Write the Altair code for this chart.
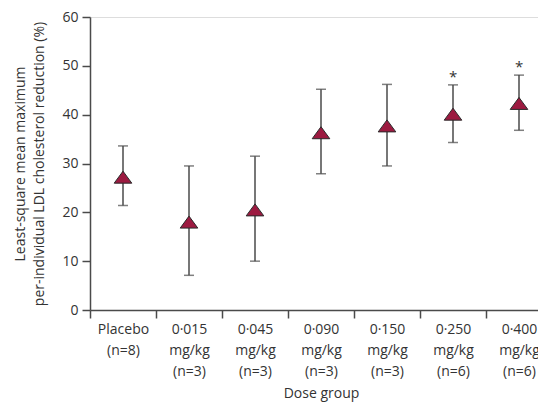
import altair as alt
import pandas as pd

groups = ["Placebo|(n=8)", "0·015|mg/kg|(n=3)", "0·045|mg/kg|(n=3)", "0·090|mg/kg|(n=3)",
          "0·150|mg/kg|(n=3)", "0·250|mg/kg|(n=6)", "0·400|mg/kg|(n=6)"]
means = [27.2, 18.0, 20.5, 36.3, 37.7, 40.1, 42.3]
lower = [21.4, 7.1, 10.0, 27.9, 29.5, 34.3, 36.8]
upper = [33.6, 29.5, 31.5, 45.2, 46.2, 46.1, 48.1]
stars = ["", "", "", "", "", "*", "*"]

df = pd.DataFrame({
    "group": groups,
    "pos": [i + 0.5 for i in range(len(groups))],
    "mean": means, "lower": lower, "upper": upper, "star": stars,
})

FONT = "Open Sans"
INK = "#333333"
AX = "#4a4a4a"
STEP = 66          # pixel width of one dose group
PLOT_W = 448       # visible plot width (the last group is cut by the frame)

label_arr = "[" + ",".join(f"'{g}'" for g in groups) + "]"

x_axis = alt.Axis(
    values=[i * 0.5 for i in range(0, 15)],
    labelExpr=f"(datum.value % 1 == 0) ? '' : split({label_arr}[floor(datum.value)], '|')",
    tickOpacity={"condition": {"test": "datum.value % 1 == 0", "value": 1}, "value": 0},
    tickSize=8, tickWidth=1.5, tickColor=AX,
    domainColor=AX, domainWidth=1.5,
    labelFont=FONT, labelFontSize=14, labelColor=INK, labelLineHeight=21,
    labelPadding=4, labelBaseline="top", labelFlush=False, labelOverlap=False,
    title="Dose group", titleFont=FONT, titleFontSize=14, titleFontWeight="normal",
    titleColor=INK, titlePadding=8, titleX=len(groups) * STEP / 2, grid=False,
)
x = alt.X("pos:Q", axis=x_axis,
          scale=alt.Scale(domain=[0, PLOT_W / STEP], nice=False))

y_axis = alt.Axis(
    values=[0, 10, 20, 30, 40, 50, 60],
    tickSize=8, tickWidth=1.5, tickColor=AX,
    domainColor=AX, domainWidth=1.5,
    labelFont=FONT, labelFontSize=14, labelColor=INK, labelPadding=4,
    title=["Least-square mean maximum", "per-individual LDL cholesterol reduction (%)"],
    titleFont=FONT, titleFontSize=14, titleFontWeight="normal", titleColor=INK,
    titleLineHeight=19, titlePadding=15, grid=False,
)
yscale = alt.Scale(domain=[0, 60], nice=False)

base = alt.Chart(df)

bars = base.mark_rule(color=AX, strokeWidth=1.5).encode(
    x=x, y=alt.Y("lower:Q", axis=y_axis, scale=yscale), y2="upper:Q")
cap_lo = base.mark_tick(orient="horizontal", size=10, thickness=1.5, color=AX).encode(
    x=x, y=alt.Y("lower:Q", axis=y_axis, scale=yscale))
cap_hi = base.mark_tick(orient="horizontal", size=10, thickness=1.5, color=AX).encode(
    x=x, y=alt.Y("upper:Q", axis=y_axis, scale=yscale))
pts = base.mark_point(shape="M0,-0.68L-1,0.68L1,0.68Z", filled=True, fill="#9c1a40",
                      stroke="#2a2a2a", strokeWidth=1, size=310, opacity=1).encode(
    x=x, y=alt.Y("mean:Q", axis=y_axis, scale=yscale))
star_txt = base.mark_text(font=FONT, fontSize=15, color=INK, baseline="alphabetic",
                          dy=-3).encode(x=x, y=alt.Y("upper:Q", axis=y_axis, scale=yscale),
                                        text="star:N")

chart = alt.layer(bars, cap_lo, cap_hi, pts, star_txt).properties(
    width=PLOT_W, height=293,
    autosize=alt.AutoSizeParams(type="none"),
    padding={"left": 90, "top": 17, "right": 0, "bottom": 94},
).configure_view(stroke=None).configure(background="white")

chart.save("out.html", embed_options={"renderer": "svg", "actions": False})
